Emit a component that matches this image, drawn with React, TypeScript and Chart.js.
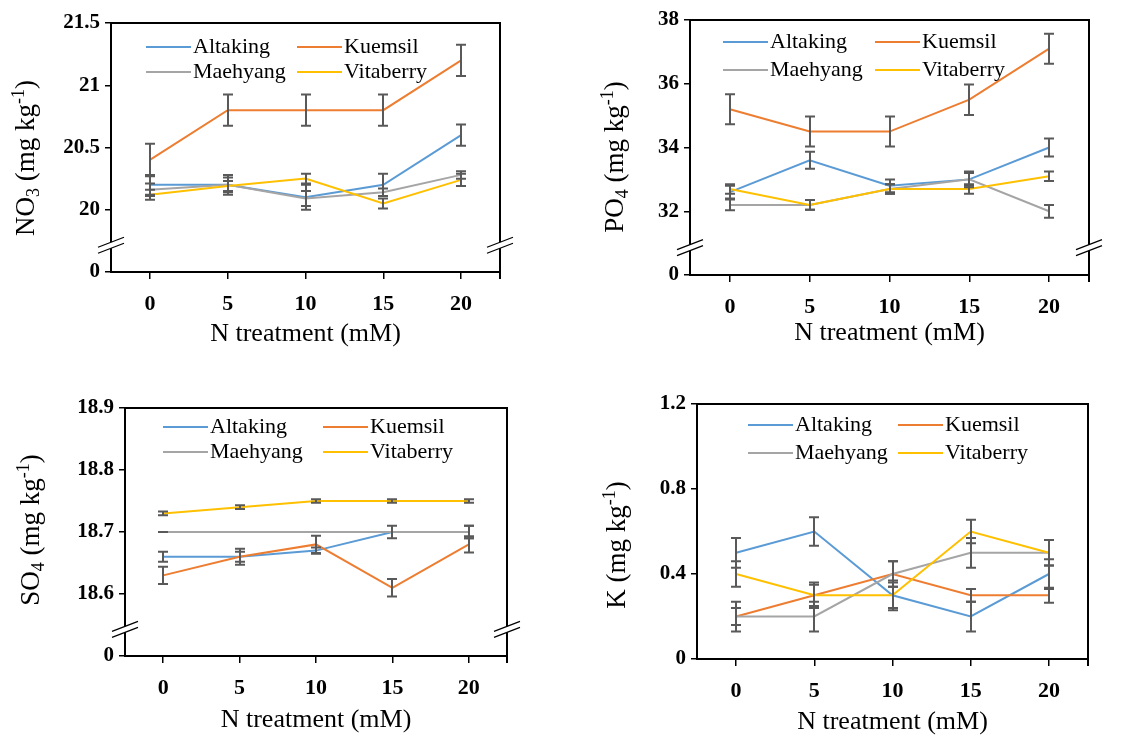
import { useEffect, useRef } from 'react';
import { Chart, registerables } from 'chart.js';

Chart.register(...registerables);

// ---------------- DATA ----------------
const X_LABELS = ['0', '5', '10', '15', '20'];
const SERIES_NAMES = ['Altaking', 'Kuemsil', 'Maehyang', 'Vitaberry'];
const SERIES_COLORS = ['#5B9BD5', '#ED7D31', '#A5A5A5', '#FFC000'];

// NO3
const NO3_ALTAKING = [20.2, 20.2, 20.1, 20.2, 20.6];
const NO3_KUEMSIL = [20.4, 20.8, 20.8, 20.8, 21.2];
const NO3_MAEHYANG = [20.16, 20.2, 20.09, 20.14, 20.28];
const NO3_VITABERRY = [20.12, 20.19, 20.25, 20.05, 20.24];
const NO3_ALTAKING_ERR = [0.08, 0.08, 0.1, 0.09, 0.085];
const NO3_KUEMSIL_ERR = [0.13, 0.125, 0.125, 0.125, 0.125];
const NO3_MAEHYANG_ERR = [0.05, 0.06, 0.06, 0.03, 0.03];
const NO3_VITABERRY_ERR = [0.04, 0.04, 0.04, 0.04, 0.05];
const NO3_TICKS = [19.5, 20, 20.5, 21, 21.5];
const NO3_TICK_LABELS = ['0', '20', '20.5', '21', '21.5'];

// PO4
const PO4_ALTAKING = [32.6, 33.6, 32.8, 33.0, 34.0];
const PO4_KUEMSIL = [35.2, 34.5, 34.5, 35.5, 37.1];
const PO4_MAEHYANG = [32.2, 32.2, 32.7, 33.0, 32.0];
const PO4_VITABERRY = [32.7, 32.2, 32.7, 32.7, 33.1];
const PO4_ALTAKING_ERR = [0.2, 0.27, 0.2, 0.25, 0.28];
const PO4_KUEMSIL_ERR = [0.47, 0.47, 0.47, 0.48, 0.47];
const PO4_MAEHYANG_ERR = [0.17, 0.15, 0.15, 0.2, 0.2];
const PO4_VITABERRY_ERR = [0.15, 0.15, 0.15, 0.15, 0.15];
const PO4_TICKS = [30, 32, 34, 36, 38];
const PO4_TICK_LABELS = ['0', '32', '34', '36', '38'];

// SO4
const SO4_ALTAKING = [18.66, 18.66, 18.67, 18.7, 18.7];
const SO4_KUEMSIL = [18.63, 18.66, 18.68, 18.61, 18.68];
const SO4_MAEHYANG = [18.7, 18.7, 18.7, 18.7, 18.7];
const SO4_VITABERRY = [18.73, 18.74, 18.75, 18.75, 18.75];
const SO4_ALTAKING_ERR = [0.008, 0.008, 0.005, 0.01, 0.01];
const SO4_KUEMSIL_ERR = [0.014, 0.013, 0.014, 0.014, 0.013];
const SO4_MAEHYANG_ERR = [0, null, null, null, 0.01];
const SO4_VITABERRY_ERR = [0.003, 0.003, 0.003, 0.003, 0.003];
const SO4_TICKS = [18.5, 18.6, 18.7, 18.8, 18.9];
const SO4_TICK_LABELS = ['0', '18.6', '18.7', '18.8', '18.9'];

// K
const K_ALTAKING = [0.5, 0.6, 0.3, 0.2, 0.4];
const K_KUEMSIL = [0.2, 0.3, 0.4, 0.3, 0.3];
const K_MAEHYANG = [0.2, 0.2, 0.4, 0.5, 0.5];
const K_VITABERRY = [0.4, 0.3, 0.3, 0.6, 0.5];
const K_ALTAKING_ERR = [0.07, 0.067, 0.07, 0.07, 0.07];
const K_KUEMSIL_ERR = [0.07, 0.05, 0.06, 0.03, 0.035];
const K_MAEHYANG_ERR = [0.04, 0.07, 0.06, 0.07, 0.06];
const K_VITABERRY_ERR = [0.06, 0.06, 0.06, 0.055, 0.06];
const K_TICKS = [0, 0.4, 0.8, 1.2];
const K_TICK_LABELS = ['0', '0.4', '0.8', '1.2'];

// ---------------- STYLE / LAYOUT ----------------
const FONT = "'Times New Roman', 'Liberation Serif', serif";
const ERR_COLOR = '#595959';
const X_TITLE = 'N treatment (mM)';

type Part = { t: string; k?: 'sub' | 'sup' };

interface PanelSpec {
  means: number[][];
  errs: (number | null)[][];
  ticks: number[];
  tickLabels: string[];
  broken: boolean;
  title: Part[];
  canvas: { left: number; top: number; width: number; height: number };
  plot: { left: number; top: number; right: number; bottom: number }; // canvas-relative
  titleCenter: { x: number; y: number };
  xTitlePad: number;
  legend: { x: number; y: number; col2: number; row: number };
}

const PANELS: PanelSpec[] = [
  {
    means: [NO3_ALTAKING, NO3_KUEMSIL, NO3_MAEHYANG, NO3_VITABERRY],
    errs: [NO3_ALTAKING_ERR, NO3_KUEMSIL_ERR, NO3_MAEHYANG_ERR, NO3_VITABERRY_ERR],
    ticks: NO3_TICKS,
    tickLabels: NO3_TICK_LABELS,
    broken: true,
    title: [{ t: 'NO' }, { t: '3', k: 'sub' }, { t: ' (mg kg' }, { t: '-1', k: 'sup' }, { t: ')' }],
    canvas: { left: 0, top: 0, width: 568, height: 360 },
    plot: { left: 111, top: 23, right: 500, bottom: 272 },
    titleCenter: { x: 25, y: 158 },
    xTitlePad: 13,
    legend: { x: 35, y: 24, col2: 151, row: 25 },
  },
  {
    means: [PO4_ALTAKING, PO4_KUEMSIL, PO4_MAEHYANG, PO4_VITABERRY],
    errs: [PO4_ALTAKING_ERR, PO4_KUEMSIL_ERR, PO4_MAEHYANG_ERR, PO4_VITABERRY_ERR],
    ticks: PO4_TICKS,
    tickLabels: PO4_TICK_LABELS,
    broken: true,
    title: [{ t: 'PO' }, { t: '4', k: 'sub' }, { t: ' (mg kg' }, { t: '-1', k: 'sup' }, { t: ')' }],
    canvas: { left: 568, top: 0, width: 569, height: 360 },
    plot: { left: 122, top: 20, right: 521, bottom: 275 },
    titleCenter: { x: 46, y: 157 },
    xTitlePad: 14,
    legend: { x: 33, y: 22, col2: 152, row: 28 },
  },
  {
    means: [SO4_ALTAKING, SO4_KUEMSIL, SO4_MAEHYANG, SO4_VITABERRY],
    errs: [SO4_ALTAKING_ERR, SO4_KUEMSIL_ERR, SO4_MAEHYANG_ERR, SO4_VITABERRY_ERR],
    ticks: SO4_TICKS,
    tickLabels: SO4_TICK_LABELS,
    broken: true,
    title: [{ t: 'SO' }, { t: '4', k: 'sub' }, { t: ' (mg kg' }, { t: '-1', k: 'sup' }, { t: ')' }],
    canvas: { left: 0, top: 368, width: 568, height: 367 },
    plot: { left: 125, top: 40, right: 507, bottom: 288 },
    titleCenter: { x: 30, y: 162 },
    xTitlePad: 2,
    legend: { x: 38, y: 19, col2: 160, row: 25 },
  },
  {
    means: [K_ALTAKING, K_KUEMSIL, K_MAEHYANG, K_VITABERRY],
    errs: [K_ALTAKING_ERR, K_KUEMSIL_ERR, K_MAEHYANG_ERR, K_VITABERRY_ERR],
    ticks: K_TICKS,
    tickLabels: K_TICK_LABELS,
    broken: false,
    title: [{ t: 'K (mg kg' }, { t: '-1', k: 'sup' }, { t: ')' }],
    canvas: { left: 568, top: 368, width: 569, height: 367 },
    plot: { left: 129, top: 36, right: 520, bottom: 291 },
    titleCenter: { x: 48, y: 177 },
    xTitlePad: 0,
    legend: { x: 51, y: 21, col2: 150, row: 28 },
  },
];

function drawRichTitle(ctx: CanvasRenderingContext2D, cx: number, cy: number, parts: Part[], size: number) {
  const small = Math.round(size * 0.65);
  ctx.save();
  ctx.translate(cx, cy);
  ctx.rotate(-Math.PI / 2);
  ctx.fillStyle = '#000';
  ctx.textBaseline = 'alphabetic';
  ctx.textAlign = 'left';
  let total = 0;
  for (const p of parts) {
    ctx.font = `${p.k ? small : size}px ${FONT}`;
    total += ctx.measureText(p.t).width;
  }
  let x = -total / 2;
  const base = size * 0.33;
  for (const p of parts) {
    ctx.font = `${p.k ? small : size}px ${FONT}`;
    const dy = p.k === 'sub' ? size * 0.2 : p.k === 'sup' ? -size * 0.38 : 0;
    ctx.fillText(p.t, x, base + dy);
    x += ctx.measureText(p.t).width;
  }
  ctx.restore();
}

function makeConfig(spec: PanelSpec): any {
  const { canvas, plot } = spec;
  const yMin = spec.ticks[0];
  const yMax = spec.ticks[spec.ticks.length - 1];

  const decor = {
    id: 'decor',
    afterDatasetsDraw(chart: any) {
      const { ctx } = chart;
      const xs = chart.scales.x;
      const ys = chart.scales.y;
      ctx.save();
      ctx.strokeStyle = ERR_COLOR;
      ctx.lineWidth = 2;
      spec.errs.forEach((arr, si) => {
        arr.forEach((e, j) => {
          if (e === null || e === undefined) return;
          const v = spec.means[si][j];
          const x = Math.round(xs.getPixelForValue(j));
          const yt = ys.getPixelForValue(v + e);
          const yb = ys.getPixelForValue(v - e);
          ctx.beginPath();
          ctx.moveTo(x, yt);
          ctx.lineTo(x, yb);
          ctx.moveTo(x - 5, yt);
          ctx.lineTo(x + 5, yt);
          ctx.moveTo(x - 5, yb);
          ctx.lineTo(x + 5, yb);
          ctx.stroke();
        });
      });
      ctx.restore();
    },
    afterDraw(chart: any) {
      const { ctx, chartArea } = chart;
      const ys = chart.scales.y;
      ctx.save();
      // top & right border
      ctx.strokeStyle = '#000';
      ctx.lineWidth = 2;
      ctx.beginPath();
      ctx.moveTo(chartArea.left, chartArea.top);
      ctx.lineTo(chartArea.right, chartArea.top);
      ctx.lineTo(chartArea.right, chartArea.bottom + 7);
      ctx.stroke();

      // axis breaks
      if (spec.broken) {
        const yb = ys.getPixelForValue(spec.ticks[0] + 0.43 * (spec.ticks[1] - spec.ticks[0]));
        const hw = 13;
        const rise = 5;
        const gap = 3;
        [chartArea.left, chartArea.right].forEach((ax) => {
          ctx.fillStyle = '#fff';
          ctx.beginPath();
          ctx.moveTo(ax - 4, yb - gap + rise * 4 / hw);
          ctx.lineTo(ax + 4, yb - gap - rise * 4 / hw);
          ctx.lineTo(ax + 4, yb + gap - rise * 4 / hw);
          ctx.lineTo(ax - 4, yb + gap + rise * 4 / hw);
          ctx.closePath();
          ctx.fill();
          ctx.strokeStyle = '#000';
          ctx.lineWidth = 1.2;
          ctx.beginPath();
          ctx.moveTo(ax - hw, yb - gap + rise);
          ctx.lineTo(ax + hw, yb - gap - rise);
          ctx.moveTo(ax - hw, yb + gap + rise);
          ctx.lineTo(ax + hw, yb + gap - rise);
          ctx.stroke();
        });
      }

      // legend
      const lg = spec.legend;
      ctx.font = `22px ${FONT}`;
      ctx.textBaseline = 'middle';
      ctx.textAlign = 'left';
      SERIES_NAMES.forEach((name, i) => {
        const col = i % 2;
        const row = Math.floor(i / 2);
        const x0 = chartArea.left + lg.x + col * lg.col2;
        const y0 = chartArea.top + lg.y + row * lg.row;
        ctx.strokeStyle = SERIES_COLORS[i];
        ctx.lineWidth = 2;
        ctx.beginPath();
        ctx.moveTo(x0, y0);
        ctx.lineTo(x0 + 45, y0);
        ctx.stroke();
        ctx.fillStyle = '#000';
        ctx.fillText(name, x0 + 47, y0);
      });

      // y-axis title
      drawRichTitle(ctx, spec.titleCenter.x, spec.titleCenter.y, spec.title, 27);
      ctx.restore();
    },
  };

  return {
    type: 'line',
    data: {
      labels: X_LABELS,
      datasets: SERIES_NAMES.map((name, i) => ({
        label: name,
        data: spec.means[i],
        borderColor: SERIES_COLORS[i],
        backgroundColor: SERIES_COLORS[i],
        borderWidth: 2,
        pointRadius: 0,
        tension: 0,
        fill: false,
        order: SERIES_NAMES.length - i,
      })),
    },
    options: {
      responsive: false,
      animation: false,
      events: [],
      layout: {
        padding: { left: 0, top: plot.top, right: canvas.width - plot.right, bottom: 0 },
      },
      plugins: {
        legend: { display: false },
        tooltip: { enabled: false },
      },
      scales: {
        x: {
          type: 'category',
          offset: true,
          afterFit: (s: any) => {
            s.height = canvas.height - plot.bottom;
          },
          grid: {
            display: true,
            drawOnChartArea: false,
            drawTicks: true,
            tickLength: 7,
            color: '#000',
            lineWidth: 1.5,
            offset: false,
          },
          border: { display: true, color: '#000', width: 2 },
          ticks: {
            color: '#000',
            font: { family: FONT, size: 22, weight: 'bold' },
            padding: 12,
            maxRotation: 0,
            autoSkip: false,
          },
          title: {
            display: true,
            text: X_TITLE,
            color: '#000',
            font: { family: FONT, size: 26, lineHeight: 1.0 },
            padding: { top: 0, bottom: spec.xTitlePad },
          },
        },
        y: {
          type: 'linear',
          min: yMin,
          max: yMax,
          afterFit: (s: any) => {
            s.width = plot.left;
          },
          afterBuildTicks: (s: any) => {
            s.ticks = spec.ticks.map((v) => ({ value: v }));
          },
          grid: {
            display: true,
            drawOnChartArea: false,
            drawTicks: true,
            tickLength: 6,
            color: '#000',
            lineWidth: 1.5,
          },
          border: { display: true, color: '#000', width: 2 },
          ticks: {
            color: '#000',
            font: { family: FONT, size: 21, weight: 'bold' },
            padding: 5,
            callback: (_v: any, idx: number) => spec.tickLabels[idx],
          },
          title: { display: false },
        },
      },
    },
    plugins: [decor],
  };
}

function Panel({ spec }: { spec: PanelSpec }) {
  const ref = useRef<HTMLCanvasElement>(null);
  useEffect(() => {
    if (!ref.current) return;
    const chart = new Chart(ref.current, makeConfig(spec));
    return () => chart.destroy();
  }, [spec]);
  const { left, top, width, height } = spec.canvas;
  return (
    <div style={{ position: 'absolute', left, top, width, height }}>
      <canvas ref={ref} width={width} height={height} style={{ width, height, display: 'block' }} />
    </div>
  );
}

export default function App() {
  return (
    <div style={{ position: 'absolute', left: 0, top: 0, width: 1137, height: 735, background: '#fff' }}>
      {PANELS.map((p, i) => (
        <Panel key={i} spec={p} />
      ))}
    </div>
  );
}
